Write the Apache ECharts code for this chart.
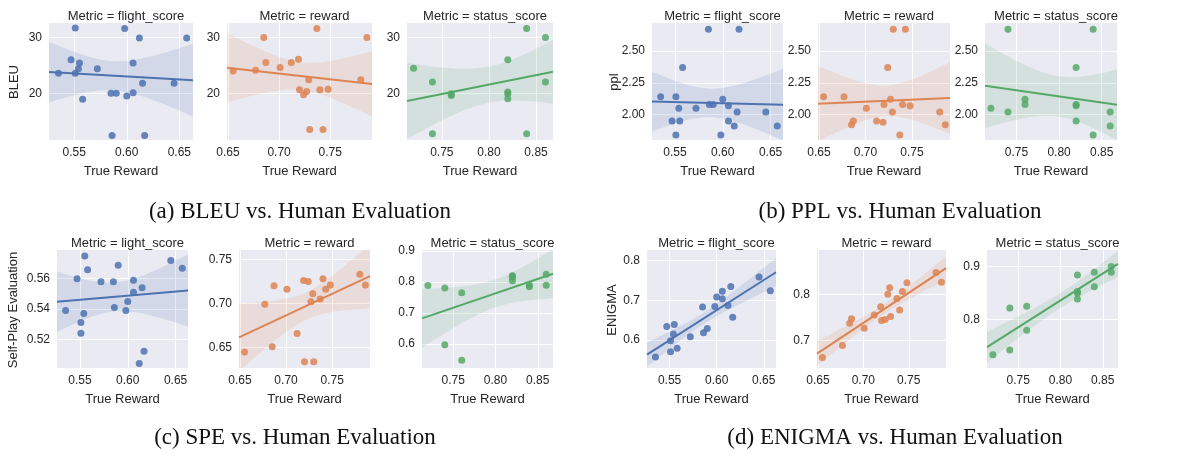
<!DOCTYPE html>
<html><head><meta charset="utf-8">
<script src="https://cdn.jsdelivr.net/npm/echarts@6/dist/echarts.min.js"></script>
<style>html,body{margin:0;background:#fff}#chart{width:1199px;height:453px}</style>
</head><body><div id="chart"></div>
<script>
// x values shared by every metric
var flightX = [0.535,0.547,0.551,0.551,0.554,0.555,0.558,0.572,0.585,0.586,0.590,0.598,0.600,0.606,0.606,0.612,0.615,0.617,0.645,0.657];
var rewardX = [0.655,0.677,0.685,0.687,0.701,0.712,0.719,0.720,0.724,0.727,0.729,0.730,0.737,0.740,0.743,0.748,0.780,0.786];
var statusX = [0.72,0.74,0.74,0.76,0.76,0.82,0.82,0.82,0.82,0.84,0.84,0.86,0.86];

// (a) BLEU
var bleuFlight = [23.6,26.0,31.7,23.6,24.4,25.4,18.9,24.4,20.0,12.4,20.0,31.6,19.5,25.4,20.1,29.9,21.8,12.4,21.8,29.9];
var bleuReward = [24.0,24.1,30.0,25.5,24.6,25.5,26.1,20.6,19.7,20.3,22.4,13.5,31.6,20.6,13.5,20.7,22.4,30.0];
var bleuStatus = [24.5,22.0,12.7,19.9,19.6,26.0,20.2,19.9,19.0,31.6,12.7,30.0,22.0];
// (b) PPL
var pplFlight = [2.14,1.95,2.14,1.84,2.05,1.95,2.37,2.05,2.67,2.08,2.08,1.84,2.12,2.07,1.95,1.91,2.02,2.67,2.02,1.91];
var pplReward = [2.14,2.14,1.92,1.95,2.05,1.95,1.94,2.08,2.37,2.12,2.02,2.67,1.84,2.08,2.67,2.07,2.02,1.92];
var pplStatus = [2.05,2.67,2.02,2.12,2.08,2.08,2.07,2.37,1.95,2.67,1.84,2.02,1.91];
// (c) SPE
var speFlight = [0.539,0.560,0.531,0.524,0.537,0.575,0.566,0.558,0.558,0.541,0.569,0.539,0.545,0.559,0.551,0.504,0.554,0.512,0.572,0.567];
var speReward = [0.645,0.699,0.651,0.720,0.716,0.666,0.726,0.634,0.725,0.702,0.711,0.634,0.705,0.728,0.716,0.721,0.733,0.721];
var speStatus = [0.788,0.780,0.597,0.765,0.547,0.820,0.815,0.804,0.818,0.790,0.784,0.825,0.789];
// (d) ENIGMA
var enigmaFlight = [0.557,0.634,0.598,0.570,0.615,0.639,0.579,0.608,0.683,0.618,0.629,0.684,0.708,0.723,0.704,0.687,0.735,0.657,0.759,0.724];
var enigmaReward = [0.663,0.689,0.737,0.747,0.726,0.755,0.773,0.743,0.745,0.800,0.814,0.752,0.791,0.766,0.806,0.825,0.847,0.826];
var enigmaStatus = [0.734,0.822,0.743,0.825,0.780,0.884,0.853,0.839,0.850,0.889,0.862,0.900,0.889];

var flightTicks = [0.55,0.60,0.65], rewardTicks = [0.65,0.70,0.75], statusTicks = [0.75,0.80,0.85];

var colors = {flight:'#4c72b0', reward:'#dd8452', status:'#55a868'};
var xr = {flight:[0.526,0.663], reward:[0.649,0.791], status:[0.713,0.868]};
var xs = {flight:flightX, reward:rewardX, status:statusX};
var xt = {flight:flightTicks, reward:rewardTicks, status:statusTicks};

var panels = [
  {k:'flight', t:'flight_score', y:bleuFlight, box:[49,23,193,140], yr:[11.6,32.6], yt:[20,30], f:0},
  {k:'reward', t:'reward', y:bleuReward, box:[227,23,372,140], yr:[11.6,32.6], yt:[20,30], f:0},
  {k:'status', t:'status_score', y:bleuStatus, box:[407,23,553,140], yr:[11.6,32.6], yt:[20,30], f:0},
  {k:'flight', t:'flight_score', y:pplFlight, box:[652,23,783,140], yr:[1.80,2.72], yt:[2.00,2.25,2.50], f:2},
  {k:'reward', t:'reward', y:pplReward, box:[818,23,950,140], yr:[1.80,2.72], yt:[2.00,2.25,2.50], f:2},
  {k:'status', t:'status_score', y:pplStatus, box:[985,23,1117,140], yr:[1.80,2.72], yt:[2.00,2.25,2.50], f:2},
  {k:'flight', t:'light_score', y:speFlight, box:[57,250,188,368], yr:[0.501,0.579], yt:[0.52,0.54,0.56], f:2},
  {k:'reward', t:'reward', y:speReward, box:[239,250,370,368], yr:[0.627,0.7605], yt:[0.65,0.70,0.75], f:2},
  {k:'status', t:'status_score', y:speStatus, box:[422,250,553,368], yr:[0.522,0.903], yt:[0.6,0.7,0.8,0.9], f:1},
  {k:'flight', t:'flight_score', y:enigmaFlight, box:[647,250,776,368], yr:[0.529,0.827], yt:[0.6,0.7,0.8], f:1},
  {k:'reward', t:'reward', y:enigmaReward, box:[817,250,946,368], yr:[0.640,0.896], yt:[0.7,0.8], f:1},
  {k:'status', t:'status_score', y:enigmaStatus, box:[987,250,1118,368], yr:[0.709,0.931], yt:[0.8,0.9], f:1}
];

function fit(x, y) {
  var n = x.length, mx = 0, my = 0;
  for (var i = 0; i < n; i++) { mx += x[i]; my += y[i]; }
  mx /= n; my /= n;
  var sxx = 0, sxy = 0;
  for (i = 0; i < n; i++) { sxx += (x[i]-mx)*(x[i]-mx); sxy += (x[i]-mx)*(y[i]-my); }
  var b = sxy / sxx, a = my - b * mx, sse = 0;
  for (i = 0; i < n; i++) { var r = y[i] - a - b * x[i]; sse += r * r; }
  return {a:a, b:b, s:Math.sqrt(sse/(n-2)), n:n, mx:mx, sxx:sxx};
}

var font = 'Liberation Sans, Arial, sans-serif';
var grid = [], xAxis = [], yAxis = [], series = [], title = [], graphic = [];

panels.forEach(function (p, i) {
  var x = xs[p.k], c = colors[p.k], b = p.box;
  grid.push({left:b[0], top:b[1], width:b[2]-b[0], height:b[3]-b[1], backgroundColor:'#eaeaf2', show:true, borderWidth:0});
  title.push({text:'Metric = ' + p.t, left:(b[0]+b[2])/2, top:b[1]-18, textAlign:'center',
    textStyle:{fontFamily:font, fontSize:13, fontWeight:'normal', color:'#262626'}});
  xAxis.push({type:'value', gridIndex:i, min:xr[p.k][0], max:xr[p.k][1],
    name:'True Reward', nameLocation:'middle', nameGap:25, nameTextStyle:{fontFamily:font, fontSize:13, color:'#262626'},
    axisLine:{show:false}, axisTick:{show:false, customValues:xt[p.k]},
    axisLabel:{customValues:xt[p.k], fontFamily:font, fontSize:12, color:'#262626', margin:7,
      formatter:function (v) { return v.toFixed(2); }},
    splitLine:{lineStyle:{color:'#fff', width:1}}});
  yAxis.push({type:'value', gridIndex:i, min:p.yr[0], max:p.yr[1],
    axisLine:{show:false}, axisTick:{show:false, customValues:p.yt},
    axisLabel:{customValues:p.yt, fontFamily:font, fontSize:12, color:'#262626', margin:7,
      formatter:function (v) { return v.toFixed(p.f); }},
    splitLine:{lineStyle:{color:'#fff', width:1}}});

  var F = fit(x, p.y), x0 = xr[p.k][0], x1 = xr[p.k][1];
  var up = [], lo = [];
  for (var j = 0; j <= 40; j++) {
    var xv = x0 + (x1 - x0) * j / 40, yv = F.a + F.b * xv;
    var se = F.s * Math.sqrt(1/F.n + (xv-F.mx)*(xv-F.mx)/F.sxx) * 2.1;
    up.push([xv, yv + se]); lo.push([xv, yv - se]);
  }
  var poly = up.concat(lo.reverse());
  series.push({type:'custom', xAxisIndex:i, yAxisIndex:i, data:[0], silent:true, clip:true, z:1,
    renderItem:function (params, api) {
      return {type:'polygon', shape:{points:poly.map(function (q) { return api.coord(q); })},
        style:{fill:c, opacity:0.15}};
    }});
  series.push({type:'line', xAxisIndex:i, yAxisIndex:i, data:[[x0, F.a+F.b*x0],[x1, F.a+F.b*x1]],
    symbol:'none', lineStyle:{color:c, width:2}, z:3, silent:true});
  series.push({type:'scatter', xAxisIndex:i, yAxisIndex:i, symbolSize:7, z:4,
    itemStyle:{color:c, opacity:0.85}, data:x.map(function (v, k) { return [v, p.y[k]]; })});
});

function ylab(text, x, y) {
  graphic.push({type:'text', x:x, y:y, rotation:Math.PI/2, style:{text:text, font:'13px ' + font, fill:'#262626', textAlign:'center', textVerticalAlign:'middle'}});
}
ylab('BLEU', 14, 82); ylab('ppl', 614, 82); ylab('Self-Play Evaluation', 13, 310); ylab('ENIGMA', 612, 310);
function cap(text, x, y) {
  graphic.push({type:'text', x:x, y:y, style:{text:text, font:'23px Liberation Serif, Times New Roman, serif', fill:'#111', textAlign:'center', textVerticalAlign:'middle'}});
}
cap('(a) BLEU vs. Human Evaluation', 300, 212); cap('(b) PPL vs. Human Evaluation', 900, 212);
cap('(c) SPE vs. Human Evaluation', 295, 438); cap('(d) ENIGMA vs. Human Evaluation', 895, 438);

var myChart = echarts.init(document.getElementById('chart'));
myChart.setOption({animation:false, title:title, grid:grid, xAxis:xAxis, yAxis:yAxis, series:series, graphic:graphic});
</script></body></html>
